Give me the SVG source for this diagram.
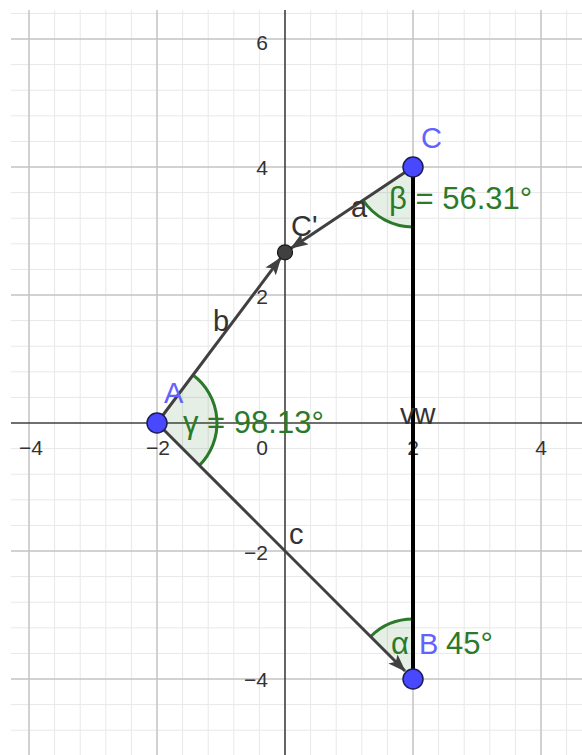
<svg xmlns="http://www.w3.org/2000/svg" width="582" height="755" viewBox="0 0 582 755">
<defs>
<style>
.minor{stroke:#e8e8e8;stroke-width:1;fill:none}
.major{stroke:#c4c4c4;stroke-width:1.5;fill:none}
.axis{stroke:#404040;stroke-width:1.6;fill:none}
.tick{font-family:"Liberation Sans",Arial,sans-serif;font-size:21px;fill:#333333}
.seg{stroke:#404040;stroke-width:3;fill:none}
.sector{fill:#2a7a2a;fill-opacity:0.12;stroke:none}
.arc{fill:none;stroke:#2a7a2a;stroke-width:3}
.ang{font-family:"Liberation Sans",Arial,sans-serif;font-size:31px;fill:#2a7a2a}
.pl{font-family:"Liberation Sans",Arial,sans-serif;font-size:29px;fill:#6262ff}
.sl{font-family:"Liberation Sans",Arial,sans-serif;font-size:29px;fill:#333333}
.pt{fill:#4848ff;stroke:#1c1c5a;stroke-width:1.5}
</style>
<marker id="arr" viewBox="0 0 18 13" refX="17" refY="6.5" markerWidth="18" markerHeight="13" markerUnits="userSpaceOnUse" orient="auto">
<path d="M0,0 L18,6.5 L0,13 L4,6.5 Z" fill="#404040"/>
</marker>
</defs>
<rect width="582" height="755" fill="#ffffff"/>
<g id="grid">
<path class="minor" d="M259.4,10V755M233.8,10V755M208.2,10V755M182.6,10V755M131.4,10V755M105.8,10V755M80.2,10V755M54.6,10V755M310.6,10V755M336.2,10V755M361.8,10V755M387.4,10V755M438.6,10V755M464.2,10V755M489.8,10V755M515.4,10V755M566.6,10V755"/>
<path class="minor" d="M11,397.4H582M11,371.8H582M11,346.2H582M11,320.6H582M11,269.4H582M11,243.8H582M11,218.2H582M11,192.6H582M11,141.4H582M11,115.8H582M11,90.2H582M11,64.6H582M11,13.4H582M11,448.6H582M11,474.2H582M11,499.8H582M11,525.4H582M11,576.6H582M11,602.2H582M11,627.8H582M11,653.4H582M11,704.6H582M11,730.2H582"/>
<path class="major" d="M29,10V755M157,10V755M413,10V755M541,10V755M11,39H582M11,167H582M11,295H582M11,551H582M11,679H582"/>
</g>
<g id="axes">
<path class="axis" d="M11,423H582M285,10V755"/>
<text class="tick" x="268" y="50" text-anchor="end">6</text>
<text class="tick" x="268" y="175" text-anchor="end">4</text>
<text class="tick" x="268" y="304" text-anchor="end">2</text>
<text class="tick" x="268" y="560" text-anchor="end">−2</text>
<text class="tick" x="268" y="687" text-anchor="end">−4</text>
<text class="tick" x="31" y="455" text-anchor="middle">−4</text>
<text class="tick" x="158" y="455" text-anchor="middle">−2</text>
<text class="tick" x="262" y="455" text-anchor="middle">0</text>
<text class="tick" x="413" y="455" text-anchor="middle">2</text>
<text class="tick" x="541" y="455" text-anchor="middle">4</text>
</g>
<g id="angles">
<path class="sector" d="M157,423 L193,375 A60,60 0 0 1 199.43,465.43 Z"/>
<path class="arc" d="M193,375 A60,60 0 0 1 199.43,465.43"/>
<path class="sector" d="M413,167 L363.08,200.28 A60,60 0 0 0 413,227 Z"/>
<path class="arc" d="M363.08,200.28 A60,60 0 0 0 413,227"/>
<path class="sector" d="M413,679 L370.57,636.57 A60,60 0 0 1 413,619 Z"/>
<path class="arc" d="M370.57,636.57 A60,60 0 0 1 413,619"/>
</g>
<g id="connectors">
<line class="seg" x1="157" y1="423" x2="405" y2="671" marker-end="url(#arr)"/>
<line class="seg" x1="157" y1="423" x2="280.8" y2="257.9" marker-end="url(#arr)"/>
<line class="seg" x1="413" y1="167" x2="291" y2="248.3" marker-end="url(#arr)"/>
<line x1="413" y1="167" x2="413" y2="679" stroke="#000000" stroke-width="4"/>
</g>
<g id="node-A">
<circle class="pt" cx="157" cy="423" r="10"/>
<text class="pl" x="164" y="403">A</text>
</g>
<g id="node-B">
<circle class="pt" cx="413" cy="679" r="10"/>
<text class="pl" x="419" y="654">B</text>
</g>
<g id="node-C">
<circle class="pt" cx="413" cy="167" r="10"/>
<text class="pl" x="421" y="148">C</text>
</g>
<g id="node-Cprime">
<circle cx="285" cy="252.3" r="7.5" fill="#404040" stroke="#1a1a1a" stroke-width="1.2"/>
<text class="sl" x="291" y="236">C'</text>
</g>
<g id="labels">
<text class="sl" x="351" y="217">a</text>
<text class="sl" x="213" y="331">b</text>
<text class="sl" x="289" y="544">c</text>
<text class="sl" x="400" y="424" font-size="31">vw</text>
<text class="ang" x="183" y="433">γ = 98.13°</text>
<text class="ang" x="389" y="209">β = 56.31°</text>
<text class="ang" x="391" y="654">α</text>
<text class="ang" x="446" y="654">45°</text>
</g>
</svg>
